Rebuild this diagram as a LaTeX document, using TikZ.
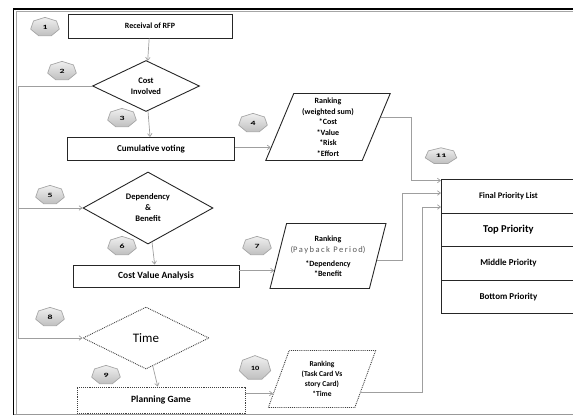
\documentclass[tikz,border=0pt]{standalone}
\usepackage{fontspec}
\setmainfont{Carlito}
\usetikzlibrary{shapes.geometric,arrows.meta,calc}

\tikzset{
    box/.style={draw=black!85, line width=0.9pt, fill=white, inner sep=0pt, font=\fontsize{9.5}{10}\selectfont\bfseries},
    dia/.style={diamond, draw=black!85, line width=0.9pt, inner sep=0pt, align=center, font=\fontsize{8.5}{11}\selectfont\bfseries},
    para/.style={trapezium, trapezium left angle=70, trapezium right angle=110, trapezium stretches=true, draw=black!85, line width=0.9pt, inner sep=0pt, align=center, font=\fontsize{8}{10.5}\selectfont\bfseries},
    badge/.style={regular polygon, regular polygon sides=7, draw=gray!70, line width=0.7pt, top color=gray!12, bottom color=gray!50, inner sep=0pt, minimum size=21pt, transform shape, xscale=1.4, yscale=0.92, font=\fontsize{7}{7}\selectfont\bfseries, text=black},
    dots/.style={densely dotted, draw=black!75},
    prio/.style={draw=black!85, line width=0.9pt, anchor=north west, minimum width=134pt, minimum height=33.5pt, inner sep=0pt},
    ln/.style={draw=gray!75, line width=0.7pt},
    arr/.style={ln, -{Straight Barb[length=3pt,width=4.5pt]}}
}

\begin{document}
\begin{tikzpicture}[x=1pt,y=-1pt]
    \useasboundingbox (0,0) rectangle (573,416);
    % frame
    \draw[line width=1.4pt] (13.5,414.5) -- (13.5,9) -- (600,9);
    \draw[gray!70, line width=0.8pt] (16,414.5) -- (16,11) -- (600,11);
    \draw[gray!80, line width=1pt] (13.5,414.5) -- (600,414.5);

    % left column
    \node[box, minimum width=164pt, minimum height=24pt, font=\fontsize{8}{9}\selectfont\bfseries] (rfp) at (150,26) {Receival of RFP};
    \node[dia, minimum width=107pt, minimum height=51pt] (cost) at (146,86) {Cost\\Involved};
    \node[box, minimum width=167pt, minimum height=23pt, font=\fontsize{9}{10}\selectfont\bfseries] (cum) at (151,149) {Cumulative voting};
    \node[dia, minimum width=130pt, minimum height=66pt] (dep) at (148,208) {Dependency\\\&\\Benefit};
    \node[box, minimum width=166pt, minimum height=22pt] (cva) at (156,276) {Cost Value Analysis};
    \node[dia, dots, minimum width=126pt, minimum height=62pt, font=\fontsize{13}{13}\selectfont] (time) at (146,338) {Time};
    \node[box, dots, minimum width=168pt, minimum height=26pt] (plan) at (161,400) {Planning Game};

    % rankings
    \node[para, minimum width=125pt, minimum height=67pt] (p4) at (328,127)
        {Ranking\\(weighted sum)\\*Cost\\*Value\\*Risk\\*Effort};
    \node[para, minimum width=116pt, minimum height=65pt] (p7) at (328,256)
        {Ranking\\[1pt]{\fontsize{8.5}{9}\selectfont\mdseries\color{black!65}(P\,a\,y\,b\,a\,c\,k\, P\,e\,r\,i\,o\,d)}\\[3pt]*Dependency\\*Benefit};
    \node[para, dots, minimum width=108pt, minimum height=57pt, font=\fontsize{7.5}{10}\selectfont\bfseries] (p10) at (322,379)
        {Ranking\\(Task Card Vs\\story Card)\\*Time};

    % priority list
    \node[prio, font=\fontsize{8.5}{9}\selectfont\bfseries] (fpl) at (441,179) {Final Priority List};
    \node[prio, font=\fontsize{10.5}{11}\selectfont\bfseries] (topp) at (441,212.5) {Top Priority};
    \node[prio, font=\fontsize{9}{9}\selectfont\bfseries] (midp) at (441,246) {Middle Priority};
    \node[prio, font=\fontsize{9}{9}\selectfont\bfseries] (botp) at (441,279.5) {Bottom Priority};

    % badges
    \node[badge] (b1) at (45,27) {1};
    \node[badge] (b2) at (62,71) {2};
    \node[badge] (b3) at (122,118) {3};
    \node[badge] (b4) at (253,123) {4};
    \node[badge] (b5) at (50,195) {5};
    \node[badge] (b6) at (122,246) {6};
    \node[badge] (b7) at (257,246) {7};
    \node[badge] (b8) at (50,317) {8};
    \node[badge] (b9) at (106,375) {9};
    \node[badge, minimum size=27pt, xscale=0.85] (b10) at (255,368) {10};
    \node[badge, xscale=1.1, yscale=0.85] (b11) at (441,156) {11};

    % points on the slanted sides
    \path (p4.bottom left corner) -- (p4.top left corner) coordinate[pos=0.2] (p4in);
    \path (p4.bottom right corner) -- (p4.top right corner) coordinate[pos=0.64] (p4out);
    \path (p7.bottom left corner) -- (p7.top left corner) coordinate[pos=0.28] (p7in);
    \path (p7.bottom right corner) -- (p7.top right corner) coordinate[pos=0.43] (p7out);
    \path (p10.bottom left corner) -- (p10.top left corner) coordinate[pos=0.25] (p10in);
    \path (p10.bottom right corner) -- (p10.top right corner) coordinate[pos=0.27] (p10out);
    \coordinate (lft) at (18,0);
    \coordinate (in1) at ($(fpl.north west)+(0,1.5)$);
    \coordinate (in2) at ($(fpl.north west)+(0,14)$);
    \coordinate (in3) at ($(fpl.north west)+(0,28)$);

    % connectors
    \draw[arr] (rfp) -- (cost);
    \draw[arr] (cost) -- (cum);
    \draw[arr] (dep) -- (cva);
    \draw[arr] (time) -- (plan);
    \draw[arr] (cost.west) -| (lft |- dep.west) -- (dep.west);
    \draw[arr] (lft |- dep.west) |- (time.west);
    \draw[arr] (cum.east |- p4in) -- (p4in);
    \draw[arr] (cva.east |- p7in) -- (p7in);
    \draw[arr] (plan.east |- p10in) -- (p10in);
    \draw[arr] (p4out) -| ($(in1)+(-30,0)$) -- (in1);
    \draw[arr] (p7out) -| ($(in2)+(-39,0)$) -- (in2);
    \draw[arr] (p10out) -| ($(in3)+(-19,0)$) -- (in3);
\end{tikzpicture}
\end{document}
